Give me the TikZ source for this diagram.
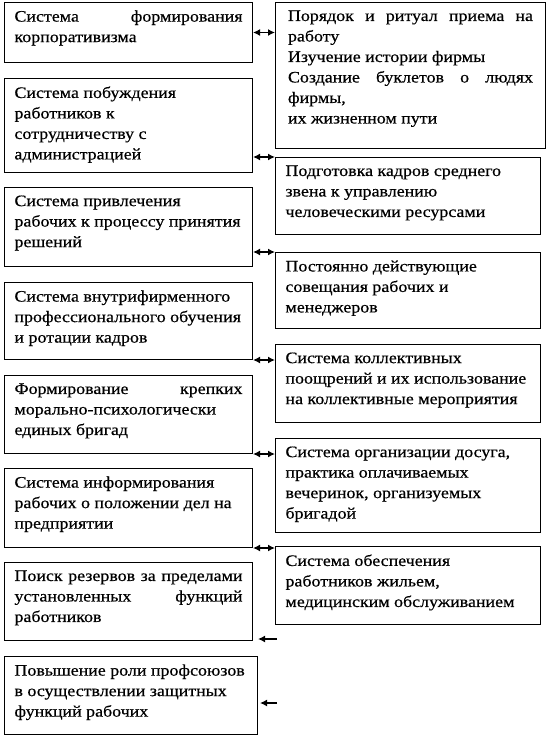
\documentclass[tikz,border=0pt]{standalone}
\usepackage{fontspec}
\setmainfont{Liberation Serif}[FakeStretch=1.12, FakeBold=0.5]
\usetikzlibrary{arrows.meta, positioning, calc}
\newcommand{\cell}[3]{\parbox[t][#1pt][t]{#2pt}{#3}}
\newcommand{\spread}[1]{\makebox[\linewidth][s]{#1}}

\begin{document}
\begin{tikzpicture}[x=1pt, y=-1pt, >={Latex[length=7pt,width=7pt]},
    box/.style={draw, line width=1pt, anchor=north west, inner xsep=10pt, inner ysep=8pt,
        font=\fontsize{16}{20.5}\selectfont},
    link/.style={<->, line width=1.6pt},
    feed/.style={->, line width=1.6pt}]
  \useasboundingbox (0,0) rectangle (548,738);

  \def\Lx{4}\def\Rx{275}\def\Lw{228}\def\Rw{245}

  % left column
  \node[box, minimum width=246] (sys1) at (\Lx,2)
      {\cell{44}{\Lw}{Система \hfill формирования\\ корпоративизма}};
  \node[box, minimum width=246] (sys2) at (\Lx,78)
      {\cell{78}{\Lw}{Система побуждения\\ работников к\\ сотрудничеству с\\ администрацией}};
  \node[box, minimum width=248] (sys3) at (\Lx,187)
      {\cell{63}{\Lw}{Система привлечения\\ рабочих к процессу принятия\\ решений}};
  \node[box, minimum width=248] (sys4) at (\Lx,282)
      {\cell{61}{\Lw}{Система внутрифирменного\\ профессионального обучения\\ и ротации кадров}};
  \node[box, minimum width=248] (sys5) at (\Lx,375)
      {\cell{62}{\Lw}{Формирование \hfill крепких\\ морально-психологически\\ единых бригад}};
  \node[box, minimum width=248] (sys6) at (\Lx,468)
      {\cell{63}{\Lw}{Система информирования\\ рабочих о положении дел на\\ предприятии}};
  \node[box, minimum width=248] (sys7) at (\Lx,562)
      {\cell{62}{\Lw}{\spread{Поиск резервов за пределами}\\ установленных \hfill функций\\ работников}};
  \node[box, minimum width=253] (sys8) at (\Lx,656)
      {\cell{62}{233}{Повышение роли профсоюзов\\ в осуществлении защитных\\ функций рабочих}};

  % right column
  \node[box, minimum width=270] (act1) at (\Rx,2)
      {\cell{130}{\Rw}{\spread{Порядок и ритуал приема на}\\ работу\\ Изучение истории фирмы\\
       \spread{Создание буклетов о людях}\\ фирмы,\\ их жизненном пути}};
  \node[box, minimum width=265] (act2) at (\Rx,157)
      {\cell{61}{\Rw}{Подготовка кадров среднего\\ звена к управлению\\ человеческими ресурсами}};
  \node[box, minimum width=265] (act3) at (\Rx,252)
      {\cell{60}{\Rw}{Постоянно действующие\\ совещания рабочих и\\ менеджеров}};
  \node[box, minimum width=265] (act4) at (\Rx,344)
      {\cell{62}{\Rw}{Система коллективных\\ поощрений и их использование\\ на коллективные мероприятия}};
  \node[box, minimum width=265] (act5) at (\Rx,438)
      {\cell{78}{\Rw}{Система организации досуга,\\ практика оплачиваемых\\ вечеринок, организуемых\\ бригадой}};
  \node[box, minimum width=265] (act6) at (\Rx,546)
      {\cell{62}{\Rw}{Система обеспечения\\ работников жильем,\\ медицинским обслуживанием}};

  % links
  \draw[link] (sys1.east) -- (sys1.east -| act1.west);
  \draw[link] (sys2.east |- act2.north west) -- (act2.north west);
  \draw[link] (sys3.east |- act3.north west) -- (act3.north west);
  \draw[link] (sys4.south east) -- (sys4.south east -| act4.west);
  \draw[link] (sys5.south east) -- (sys5.south east -| act5.west);
  \draw[link] (sys6.south east) -- (sys6.south east -| act6.west);

  \coordinate (in7) at (277,639);
  \coordinate (in8) at (277,703);
  \draw[feed, shorten >=5pt] (in7) -- (in7 -| sys7.east);
  \draw[feed, shorten >=2pt] (in8) -- (in8 -| sys8.east);
\end{tikzpicture}
\end{document}
